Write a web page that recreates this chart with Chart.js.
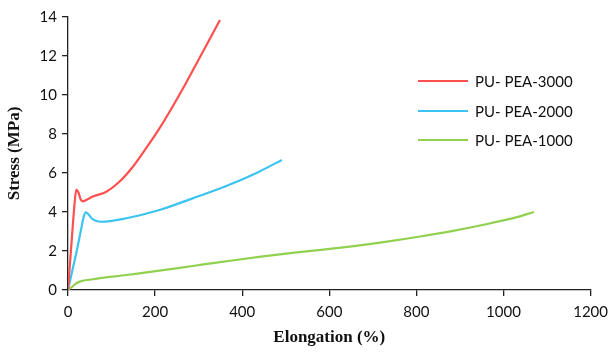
<!DOCTYPE html>
<html>
<head>
<meta charset="utf-8">
<script src="https://cdn.jsdelivr.net/npm/chart.js@4/dist/chart.umd.min.js"></script>
<style>
  html, body { margin: 0; padding: 0; background: #fff; }
  #wrap { width: 615px; height: 352px; }
</style>
</head>
<body>
<div id="wrap"><canvas id="chart" width="615" height="352"></canvas></div>
<script>
'use strict';

// data
var seriesNames = ['PU- PEA-3000', 'PU- PEA-2000', 'PU- PEA-1000'];

var pea3000X = [0, 8, 15, 19, 24, 29, 34, 45, 57, 88, 118, 149, 179, 210, 240, 271, 301, 332, 349];
var pea3000Y = [0, 2.4, 4.4, 5.15, 5.0, 4.65, 4.55, 4.65, 4.79, 5.04, 5.55, 6.32, 7.26, 8.29, 9.4, 10.62, 11.86, 13.14, 13.85];

var pea2000X = [0, 10, 20, 30, 36, 41, 47, 54, 64, 76, 134, 210, 286, 362, 439, 491];
var pea2000Y = [0, 1.0, 2.0, 3.1, 3.75, 3.98, 3.88, 3.68, 3.55, 3.5, 3.68, 4.1, 4.7, 5.32, 6.07, 6.67];

var pea1000X = [0, 10, 17, 27, 57, 134, 210, 286, 362, 439, 515, 591, 652, 729, 805, 881, 957, 1033, 1070];
var pea1000Y = [0, 0.17, 0.31, 0.43, 0.55, 0.77, 0.99, 1.23, 1.47, 1.7, 1.9, 2.08, 2.24, 2.47, 2.73, 3.02, 3.36, 3.75, 4.0];

var xTicks = [0, 200, 400, 600, 800, 1000, 1200];
var yTicks = [0, 2, 4, 6, 8, 10, 12, 14];

var colors = ['rgb(255, 80, 80)', 'rgb(60, 196, 240)', 'rgb(146, 208, 80)'];


var toPoints = function(xs, ys){
  var pts = [];
  xs.forEach(function(x, i){
    pts.push({ x: x, y: ys[i] });
  });
  return pts;
};

var makeSet = function(i, xs, ys){
  return {
    label: seriesNames[i],
    data: toPoints(xs, ys),
    borderColor: colors[i],
    backgroundColor: colors[i],
    borderWidth: 2.2,
    pointRadius: 0,
    fill: false,
    cubicInterpolationMode: 'monotone'
  };
};


//
//  legend drawn inside the plot
//
var innerLegend = {
  id: 'innerLegend',
  afterDraw: function(chart){
    var ctx = chart.ctx;
    var rows = [81, 111, 140];
    ctx.save();
    ctx.font = '15px Lato';
    ctx.textBaseline = 'middle';
    chart.data.datasets.forEach(function(ds, i){
      ctx.strokeStyle = ds.borderColor;
      ctx.lineWidth = 2.2;
      ctx.beginPath();
      ctx.moveTo(418, rows[i]);
      ctx.lineTo(468, rows[i]);
      ctx.stroke();
      ctx.fillStyle = '#111';
      ctx.fillText(ds.label, 475, rows[i] + 1);
    });
    ctx.restore();
  }
};


var axisStyle = {
  display: true,
  drawOnChartArea: false,
  drawTicks: true,
  tickLength: 6,
  color: '#222',
  lineWidth: 1.3
};

var tickFont = { family: 'Lato', size: 15 };
var titleFont = { family: 'Liberation Serif', size: 17, weight: 'bold' };

var plain = function(v){ return String(v); };

var chart = new Chart(document.getElementById('chart'), {
  type: 'line',
  data: {
    datasets: [
      makeSet(0, pea3000X, pea3000Y),
      makeSet(1, pea2000X, pea2000Y),
      makeSet(2, pea1000X, pea1000Y)
    ]
  },
  plugins: [innerLegend],
  options: {
    responsive: false,
    animation: false,
    events: [],
    layout: { padding: { left: 0, top: 17, right: 22, bottom: 0 } },
    plugins: {
      legend: { display: false },
      tooltip: { enabled: false }
    },
    scales: {
      x: {
        type: 'linear',
        min: 0,
        max: 1200,
        afterBuildTicks: function(scale){
          scale.ticks = xTicks.map(function(v){ return { value: v }; });
        },
        afterFit: function(scale){ scale.height = 62; },
        grid: axisStyle,
        border: { display: true, color: '#222', width: 1.3 },
        ticks: { color: '#111', font: tickFont, padding: 7, maxRotation: 0, callback: plain },
        title: { display: true, text: 'Elongation (%)', color: '#111', font: titleFont, padding: { top: 0 } }
      },
      y: {
        type: 'linear',
        min: 0,
        max: 14,
        afterBuildTicks: function(scale){
          scale.ticks = yTicks.map(function(v){ return { value: v }; });
        },
        afterFit: function(scale){ scale.width = 68; },
        grid: axisStyle,
        border: { display: true, color: '#222', width: 1.3 },
        ticks: { color: '#111', font: tickFont, padding: 5, callback: plain },
        title: { display: true, text: 'Stress (MPa)', color: '#111', font: titleFont, padding: { bottom: 2 } }
      }
    }
  }
});
</script>
</body>
</html>
